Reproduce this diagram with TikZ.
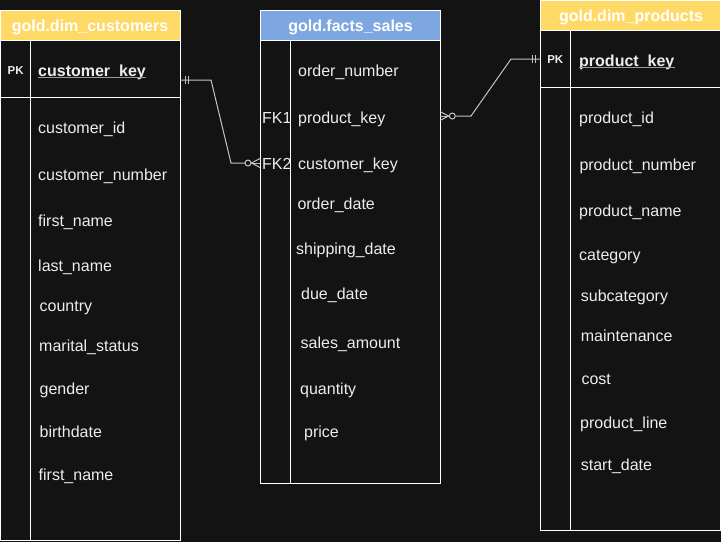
\documentclass[tikz,border=0pt]{standalone}
\usepackage{fontspec}
\setmainfont{Liberation Sans}
\definecolor{bg}{HTML}{131313}
\definecolor{hdrY}{HTML}{FFD966}
\definecolor{hdrB}{HTML}{7EA6E0}
\definecolor{txt}{HTML}{EDEDED}
\definecolor{connc}{HTML}{C4C4C4}
\definecolor{ulc}{HTML}{9A9A9A}
\begin{document}
\begin{tikzpicture}[x=1pt,y=-1pt,
  fld/.style={anchor=base west,inner sep=0pt,text=txt,font=\fontsize{16}{19}\selectfont},
  hdr/.style={anchor=base,inner sep=0pt,text=white,font=\bfseries\fontsize{16}{19}\selectfont},
  pklbl/.style={anchor=base,inner sep=0pt,text=txt,font=\bfseries\fontsize{11.5}{14}\selectfont},
  keyfld/.style={fld,font=\bfseries\fontsize{16}{19}\selectfont},
  tbl/.style={draw=white,line width=1pt},
  ul/.style={draw=ulc,line width=1.3pt},
  conn/.style={draw=connc,line width=1pt}]
\fill[bg] (0,0) rectangle (721,542);
\useasboundingbox (0,0) rectangle (721,542);

% ---------- gold.dim_customers ----------
\fill[hdrY] (0.5,10) rectangle (180,40);
\draw[tbl] (0.5,10) rectangle (180,540);
\draw[tbl] (0.5,40) -- (180,40);
\draw[tbl] (0.5,97) -- (180,97);
\draw[tbl] (30,40) -- (30,540);
\node[hdr] (chdr) at (90,31.5) {gold.dim\_customers};
\node[pklbl] (cpk) at (15.7,74) {PK};
\node[keyfld] (ckey) at (38,76) {customer\_key};
\draw[ul] ([yshift=-1.6pt]ckey.base west) -- ([yshift=-1.6pt]ckey.base east);
\node[fld] (c1) at (38,133) {customer\_id};
\node[fld] (c2) at (38,180) {customer\_number};
\node[fld] (c3) at (38,226.7) {first\_name};
\node[fld] (c4) at (38,271.7) {last\_name};
\node[fld] (c5) at (39.5,311.7) {country};
\node[fld] (c6) at (39,351.7) {marital\_status};
\node[fld] (c7) at (39.5,394.3) {gender};
\node[fld] (c8) at (39.5,437.7) {birthdate};
\node[fld] (c9) at (38.5,480) {first\_name};

% ---------- gold.facts_sales ----------
\fill[hdrB] (260,10) rectangle (440,40);
\draw[tbl] (260,10) rectangle (440,483);
\draw[tbl] (260,40) -- (440,40);
\draw[tbl] (290,40) -- (290,483);
\node[hdr] (fhdr) at (350.5,31.7) {gold.facts\_sales};
\node[fld] (f1) at (298,76) {order\_number};
\node[fld] (fk1) at (262,123.5) {FK1};
\node[fld] (f2) at (298,123.5) {product\_key};
\node[fld] (fk2) at (262,169.5) {FK2};
\node[fld] (f3) at (298,169.5) {customer\_key};
\node[fld] (f4) at (297.3,209.3) {order\_date};
\node[fld] (f5) at (296,254) {shipping\_date};
\node[fld] (f6) at (301,299) {due\_date};
\node[fld] (f7) at (300.5,348.3) {sales\_amount};
\node[fld] (f8) at (300,394) {quantity};
\node[fld] (f9) at (304,437.3) {price};

% ---------- gold.dim_products ----------
\fill[hdrY] (540,0.5) rectangle (720,30);
\draw[tbl] (540,0.5) rectangle (720,530);
\draw[tbl] (540,30) -- (720,30);
\draw[tbl] (540,87) -- (720,87);
\draw[tbl] (570,30) -- (570,530);
\node[hdr] (phdr) at (631,21) {gold.dim\_products};
\node[pklbl] (ppk) at (555.3,63.3) {PK};
\node[keyfld] (pkey) at (579,66) {product\_key};
\draw[ul] ([yshift=-1.6pt]pkey.base west) -- ([yshift=-1.6pt]pkey.base east);
\node[fld] (p1) at (579,123.3) {product\_id};
\node[fld] (p2) at (579.3,170) {product\_number};
\node[fld] (p3) at (579,216.7) {product\_name};
\node[fld] (p4) at (579,260.7) {category};
\node[fld] (p5) at (580.7,301.7) {subcategory};
\node[fld] (p6) at (580.7,341.7) {maintenance};
\node[fld] (p7) at (581.3,384) {cost};
\node[fld] (p8) at (580,428.3) {product\_line};
\node[fld] (p9) at (580.7,470.7) {start\_date};

% ---------- connectors ----------
\coordinate (ckE) at (180,80);
\coordinate (ckB1) at (211,80);
\coordinate (ckB2) at (231,163);
\coordinate (fcW) at (260,163);
\coordinate (fpE) at (440,116);
\coordinate (pB1) at (471,116);
\coordinate (pB2) at (511,59);
\coordinate (pkW) at (540,59);

% customers.customer_key (one) -> facts.customer_key (zero or many)
\draw[conn] (ckE) -- (ckB1) -- (ckB2) -- ([xshift=-15pt]fcW);
\draw[conn] ([xshift=5pt]ckE) ++(0,4) -- ++(0,-8);
\draw[conn] ([xshift=8pt]ckE) ++(0,4) -- ++(0,-8);
\draw[conn] ([xshift=-12pt]fcW) circle (3);
\draw[conn] ([xshift=-9pt]fcW) -- (fcW);
\draw[conn] ([xshift=-8.5pt]fcW) -- ([yshift=4.5pt]fcW);
\draw[conn] ([xshift=-8.5pt]fcW) -- ([yshift=-4.5pt]fcW);

% facts.product_key (zero or many) -> products.product_key (one)
\draw[conn] ([xshift=15.5pt]fpE) -- (pB1) -- (pB2) -- (pkW);
\draw[conn] ([xshift=12.3pt]fpE) circle (3);
\draw[conn] ([xshift=9.3pt]fpE) -- (fpE);
\draw[conn] ([xshift=8.5pt]fpE) -- ([yshift=4.5pt]fpE);
\draw[conn] ([xshift=8.5pt]fpE) -- ([yshift=-4.5pt]fpE);
\draw[conn] ([xshift=-8pt]pkW) ++(0,4) -- ++(0,-8);
\draw[conn] ([xshift=-4.5pt]pkW) ++(0,4) -- ++(0,-8);
\end{tikzpicture}
\end{document}
